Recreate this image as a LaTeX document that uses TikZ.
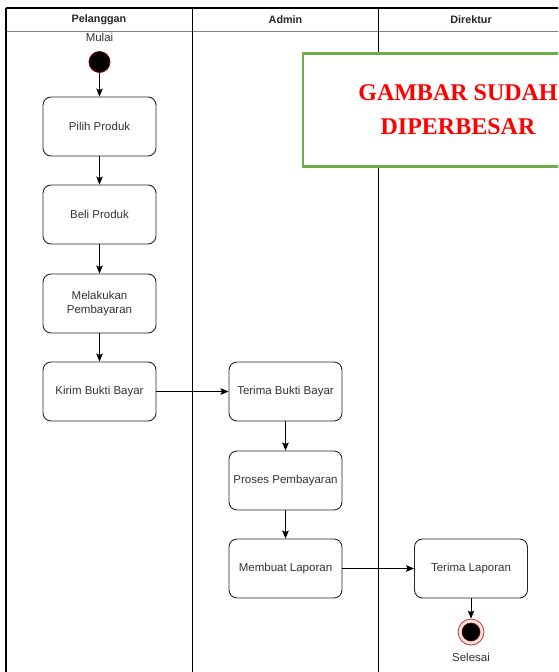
\documentclass[tikz,border=0pt]{standalone}
\usepackage{fontspec}
\setmainfont{Liberation Sans}
\newfontfamily\serifbold{Liberation Serif}
\usepackage{xcolor}
\usepackage{tikz}
\usetikzlibrary{calc}
\usetikzlibrary{arrows.meta}

\definecolor{txtgray}{HTML}{333333}
\definecolor{lanegray}{HTML}{808080}
\definecolor{notegreen}{HTML}{70AD47}
\definecolor{endred}{HTML}{C00000}

\begin{document}
\begin{tikzpicture}[x=1pt,y=-1pt,
    act/.style={draw=black!85,line width=0.9pt,rounded corners=8pt,fill=white,
        minimum width=113pt,minimum height=59pt,align=center,
        text=txtgray,font=\fontsize{11.5}{14.5}\selectfont},
    lanehead/.style={font=\fontsize{10.8}{12}\selectfont\bfseries,text=black!85},
    lbl/.style={text=txtgray,font=\fontsize{11.5}{13}\selectfont},
    flow/.style={-{Stealth[length=8pt,width=6.5pt,inset=1.5pt]},line width=0.9pt,black}]
            \useasboundingbox (0,0) rectangle (558,672);
            \clip (0,0) rectangle (558,672);
            \fill[white] (0,0) rectangle (558,672);

            %%% SWIMLANES %%%
            \draw[lanegray,line width=0.7pt] (6,31) -- (600,31);
            \draw[line width=1.2pt] (6,8) -- (600,8);
            \draw[line width=1.2pt] (6,8) -- (6,700);
            \draw[line width=1pt] (192.5,8) -- (192.5,700);
            \draw[line width=1pt] (378.5,8) -- (378.5,700);
            \node[lanehead] (hPel) at (99,20) {Pelanggan};
            \node[lanehead] (hAdm) at (285.5,20) {Admin};
            \node[lanehead] (hDir) at (471,20) {Direktur};

            %%% START %%%
            \node[circle,fill=black,draw=endred!70!black,line width=0.8pt,
                  minimum size=21pt,inner sep=0pt] (mulai) at (99.5,62) {};
            \node[lbl] (tMulai) at (99.5,37) {Mulai};

            %%% ACTIVITIES %%%
            \node[act] (pilih) at (99.5,126.5) {Pilih Produk};
            \node[act] (beli) at (99.5,214.5) {Beli Produk};
            \node[act] (bayar) at (99.5,303.5) {Melakukan\\Pembayaran};
            \node[act] (kirim) at (99.5,391.5) {Kirim Bukti Bayar};
            \node[act] (terima) at (285.5,391.5) {Terima Bukti Bayar};
            \node[act] (proses) at (285.5,480.5) {Proses Pembayaran};
            \node[act] (laporan) at (285.5,568.5) {Membuat Laporan};
            \node[act] (tlaporan) at (471,568.5) {Terima Laporan};

            %%% END %%%
            \node[circle,draw=endred!80,fill=endred!12,line width=0.8pt,
                  minimum size=26pt,inner sep=0pt] (selesai) at (471,632) {};
            \node[circle,fill=black,draw=endred!60!black,line width=0.6pt,
                  minimum size=18pt,inner sep=0pt] at (selesai) {};
            \node[lbl] (tSelesai) at (471,657) {Selesai};

            %%% FLOWS %%%
            \draw[flow] (mulai) -- (pilih);
            \draw[flow] (pilih) -- (beli);
            \draw[flow] (beli) -- (bayar);
            \draw[flow] (bayar) -- (kirim);
            \draw[flow] (kirim) -- (terima);
            \draw[flow] (terima) -- (proses);
            \draw[flow] (proses) -- (laporan);
            \draw[flow] (laporan) -- (tlaporan);
            \draw[flow] (tlaporan) -- (selesai);

            %%% NOTE %%%
            \node[draw=notegreen,line width=2.4pt,fill=white,minimum width=310pt,
                  minimum height=113pt,align=center,text=red,
                  font=\fontsize{24}{34}\selectfont\serifbold\bfseries] (note) at (458,110)
                  {GAMBAR SUDAH\\DIPERBESAR};
        \end{tikzpicture}
\end{document}
